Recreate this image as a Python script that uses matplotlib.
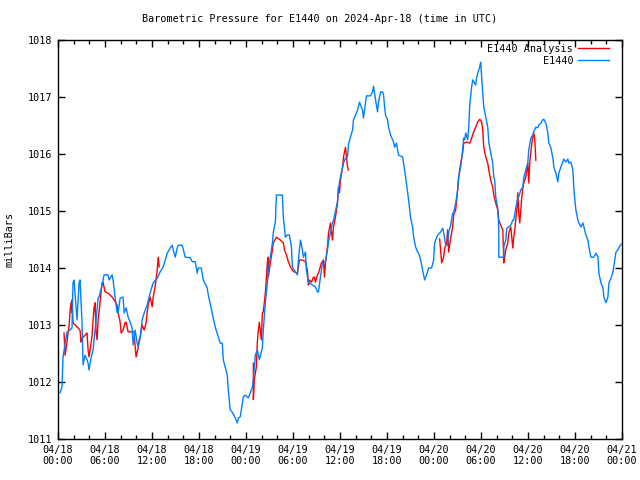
import numpy as np
import matplotlib
matplotlib.use('Agg')
import matplotlib.pyplot as plt
import matplotlib.dates as mdates
from datetime import datetime, timedelta

nan = np.nan

# hours since 2024-04-18 00:00 UTC, pressure in mbar
obs_hours = [0.26, 0.51, 0.64, 1.15, 1.53, 1.79, 1.92, 2.05, 2.30, 2.43, 2.69, 2.81, 3.07, 3.20, 3.45, 3.71, 3.84, 3.96,
             4.22, 4.48, 4.60, 4.86, 5.12, 5.24, 5.63, 5.88, 6.39, 6.52, 6.91, 7.03, 7.29, 7.54, 7.67, 7.93, 8.31, 8.44,
             8.70, 8.95, 9.21, 9.46, 9.59, 9.85, 10.10, 10.23, 10.49, 10.74, 11.00, 11.38, 11.76, 12.15, 12.66, 13.04,
             13.43, 13.94, 14.32, 14.58, 14.71, 14.96, 15.22, 15.35, 15.86, 16.24, 16.88, 17.14, 17.52, 17.77, 17.90,
             18.29, 18.54, 19.05, 19.18, 19.69, 20.08, 20.46, 20.72, 20.97, 21.10, 21.61, 21.74, 21.99, 22.25, 22.63,
             22.89, 23.02, 23.27, 23.53, 23.66, 23.91, 24.30, 24.55, 24.81, 24.94, 25.19, 25.45, 25.70, 26.09, 26.21,
             26.47, 26.73, 26.85, 27.11, 27.37, 27.49, 27.75, 27.88, 28.64, 28.77, 29.03, 29.28, 29.54, 29.80, 29.92,
             30.31, 30.56, 30.69, 30.95, 31.20, 31.33, 31.59, 31.71, 31.97, 32.48, 32.86, 33.12, 33.25, 33.50, 33.76,
             34.14, 34.40, 34.53, 35.04, 35.17, 35.68, 35.81, 36.06, 36.45, 36.70, 36.96, 37.08, 37.34, 37.60, 37.72,
             37.98, 38.24, 38.49, 38.87, 39.00, 39.26, 39.39, 39.90, 40.15, 40.28, 40.54, 40.79, 40.92, 41.18, 41.43,
             41.56, 41.69, 41.82, 42.07, 42.20, 42.46, 42.84, 42.97, 43.22, 43.35, 43.48, 43.99, 44.12, 44.37, 44.63,
             44.76, 45.01, 45.27, 45.40, 45.65, 45.91, 46.04, 46.29, 46.55, 46.68, 46.80, 47.06, 47.31, 47.70, 47.95,
             48.08, 48.47, 48.85, 49.10, 49.23, 49.49, 49.74, 49.87, 50.13, 50.38, 50.51, 50.77, 51.02, 51.15, 51.41,
             51.66, 51.79, 51.92, 52.05, 52.30, 52.43, 52.56, 52.81, 52.94, 53.32, 53.45, 53.71, 53.84, 53.96, 54.22,
             54.35, 54.60, 54.86, 54.99, 55.24, 55.50, 55.63, 55.75, 55.88, 56.14, 56.27, 56.27, 56.91, 56.91, 57.16,
             57.29, 57.54, 57.80, 58.06, 58.18, 58.44, 58.70, 58.82, 59.08, 59.34, 59.46, 59.72, 59.97, 60.10, 60.36,
             60.61, 60.74, 61.00, 61.25, 61.38, 61.64, 61.89, 62.02, 62.28, 62.53, 62.66, 62.92, 63.17, 63.30, 63.55,
             63.81, 63.94, 64.19, 64.45, 64.58, 64.83, 65.09, 65.22, 65.47, 65.73, 65.86, 66.11, 66.37, 66.50, 66.75,
             67.01, 67.14, 67.39, 67.65, 67.77, 68.03, 68.41, 68.67, 68.93, 69.05, 69.31, 69.57, 69.69, 69.95, 70.20,
             70.33, 70.59, 70.84, 70.97, 71.23, 71.48, 71.74, 71.90]
obs_mb = [1011.81, 1011.91, 1012.44, 1012.88, 1012.91, 1012.95, 1013.74, 1013.79, 1013.32, 1013.09, 1013.74, 1013.79,
          1013.04, 1012.30, 1012.47, 1012.39, 1012.33, 1012.21, 1012.42, 1012.56, 1012.74, 1013.09, 1013.47, 1013.49,
          1013.70, 1013.88, 1013.88, 1013.79, 1013.88, 1013.79, 1013.49, 1013.22, 1013.21, 1013.47, 1013.49, 1013.21,
          1013.30, 1013.14, 1013.05, 1012.95, 1012.65, 1012.91, 1012.69, 1012.62, 1012.77, 1013.09, 1013.21, 1013.35,
          1013.56, 1013.74, 1013.82, 1013.93, 1014.02, 1014.26, 1014.35, 1014.40, 1014.32, 1014.19, 1014.35, 1014.40,
          1014.40, 1014.19, 1014.18, 1014.11, 1014.11, 1013.91, 1014.00, 1014.00, 1013.79, 1013.65, 1013.53, 1013.21,
          1012.96, 1012.79, 1012.68, 1012.68, 1012.39, 1012.12, 1011.86, 1011.51, 1011.47, 1011.37, 1011.28, 1011.37,
          1011.39, 1011.63, 1011.74, 1011.77, 1011.72, 1011.81, 1011.91, 1012.04, 1012.47, 1012.56, 1012.39, 1012.60,
          1012.91, 1013.39, 1013.74, 1013.96, 1014.19, 1014.44, 1014.63, 1014.81, 1015.28, 1015.28, 1014.89, 1014.54,
          1014.58, 1014.58, 1014.37, 1014.02, 1013.93, 1013.88, 1014.14, 1014.49, 1014.32, 1014.19, 1014.28, 1013.96,
          1013.75, 1013.70, 1013.67, 1013.58, 1013.58, 1013.84, 1014.09, 1014.11, 1014.32, 1014.46, 1014.79, 1014.84,
          1015.16, 1015.40, 1015.60, 1015.84, 1015.93, 1015.95, 1016.16, 1016.30, 1016.42, 1016.60, 1016.68, 1016.77,
          1016.91, 1016.77, 1016.63, 1016.91, 1017.02, 1017.02, 1017.09, 1017.19, 1016.95, 1016.74, 1016.91, 1017.09,
          1017.09, 1017.04, 1016.83, 1016.68, 1016.60, 1016.47, 1016.33, 1016.21, 1016.12, 1016.19, 1016.07, 1015.98,
          1015.95, 1015.84, 1015.60, 1015.32, 1015.19, 1014.88, 1014.72, 1014.54, 1014.37, 1014.28, 1014.26, 1014.14,
          1013.96, 1013.88, 1013.79, 1013.88, 1014.00, 1014.00, 1014.14, 1014.44, 1014.58, 1014.63, 1014.70, 1014.63,
          1014.40, 1014.40, 1014.63, 1014.75, 1014.96, 1014.97, 1015.14, 1015.37, 1015.60, 1015.77, 1016.07, 1016.28,
          1016.25, 1016.37, 1016.25, 1016.47, 1016.86, 1017.18, 1017.30, 1017.21, 1017.35, 1017.47, 1017.53, 1017.61,
          1017.07, 1016.83, 1016.65, 1016.47, 1016.21, 1016.02, 1015.84, 1015.60, 1015.54, 1015.25, 1015.05, 1014.67,
          1014.19, 1014.19, 1014.37, 1014.49, 1014.70, 1014.72, 1014.75, 1014.84, 1014.84, 1015.05, 1015.23, 1015.25,
          1015.37, 1015.42, 1015.58, 1015.72, 1015.84, 1016.07, 1016.28, 1016.33, 1016.39, 1016.47, 1016.46, 1016.51,
          1016.54, 1016.60, 1016.61, 1016.54, 1016.37, 1016.19, 1016.11, 1015.93, 1015.77, 1015.67, 1015.51, 1015.67,
          1015.77, 1015.86, 1015.91, 1015.86, 1015.91, 1015.84, 1015.86, 1015.72, 1015.37, 1015.02, 1014.84, 1014.79,
          1014.72, 1014.79, 1014.72, 1014.58, 1014.49, 1014.37, 1014.19, 1014.19, 1014.26, 1014.19, 1013.91, 1013.74,
          1013.65, 1013.49, 1013.39, 1013.49, 1013.74, 1013.82, 1013.93, 1014.05, 1014.28, 1014.32, 1014.39, 1014.42]

ana_hours = [0.77, 0.90, 1.15, 1.28, 1.41, 1.53, 1.66, 1.79, 1.79, 1.92, 2.17, 2.56, 2.81, 2.94, 3.07, 3.45, 3.71,
             3.84, 3.96, 4.22, 4.35, 4.48, 4.60, 4.73, 4.86, 4.99, 5.12, 5.24, 5.37, 5.50, 5.63, 5.75, 6.01, 6.39,
             6.91, 7.16, 7.54, 7.67, 7.93, 8.06, 8.31, 8.57, 8.70, 8.95, 9.21, 9.72, 9.85, 9.97, 10.23, 10.36, 10.49,
             10.74, 10.87, 11.00, 11.25, 11.38, 11.51, 11.76, 12.02, 12.15, 12.40, 12.66, 12.79, 12.92, 18.0,
             24.94, 24.94, 25.06, 25.32, 25.45, 25.58, 25.70, 25.96, 26.09, 26.21, 26.47, 26.73, 26.85, 26.85, 27.11,
             27.37, 27.49, 27.88, 28.39, 28.77, 28.90, 29.16, 29.41, 29.67, 29.92, 30.18, 30.56, 30.82, 31.20, 31.59,
             31.84, 31.97, 32.10, 32.35, 32.61, 32.74, 32.86, 33.12, 33.25, 33.63, 33.89, 34.02, 34.14, 34.40, 34.53,
             34.78, 35.04, 35.17, 35.42, 35.68, 35.81, 35.93, 36.06, 36.32, 36.45, 36.70, 36.96, 37.08, 42.0,
             48.72, 48.98, 49.23, 49.36, 49.62, 49.74, 49.87, 50.13, 50.38, 50.51, 50.77, 51.02, 51.15, 51.41, 51.66,
             51.79, 52.17, 52.56, 52.81, 53.07, 53.32, 53.58, 53.84, 54.09, 54.22, 54.35, 54.60, 54.86, 54.99, 55.24,
             55.50, 55.63, 55.88, 56.14, 56.27, 56.52, 56.78, 56.91, 57.03, 57.16, 57.42, 57.54, 57.80, 58.06, 58.18,
             58.31, 58.44, 58.57, 58.70, 58.82, 58.95, 59.21, 59.34, 59.46, 59.72, 59.97, 60.10, 60.23, 60.49, 60.61,
             60.74, 60.87, 61.00]
ana_mb = [1012.86, 1012.47, 1012.70, 1012.86, 1012.97, 1013.23, 1013.39, 1013.21, 1013.44, 1013.04, 1013.00, 1012.95,
          1012.91, 1012.70, 1012.77, 1012.82, 1012.86, 1012.56, 1012.44, 1012.68, 1012.82, 1013.09, 1013.30, 1013.39,
          1012.88, 1012.74, 1013.09, 1013.23, 1013.40, 1013.56, 1013.74, 1013.75, 1013.58, 1013.56, 1013.49, 1013.44,
          1013.35, 1013.23, 1013.05, 1012.86, 1012.91, 1013.04, 1013.05, 1012.88, 1012.88, 1012.88, 1012.62, 1012.44,
          1012.60, 1012.74, 1012.79, 1013.00, 1012.95, 1012.91, 1013.04, 1013.21, 1013.35, 1013.49, 1013.32, 1013.49,
          1013.67, 1013.96, 1014.19, 1014.02, nan,
          1012.33, 1011.69, 1012.04, 1012.26, 1012.70, 1012.91, 1013.05, 1012.74, 1013.21, 1013.23, 1013.56, 1014.09,
          1014.19, 1013.84, 1014.09, 1014.32, 1014.44, 1014.54, 1014.49, 1014.44, 1014.32, 1014.23, 1014.11, 1014.02,
          1013.96, 1013.93, 1013.91, 1014.14, 1014.14, 1014.11, 1013.96, 1013.70, 1013.79, 1013.75, 1013.84, 1013.84,
          1013.75, 1013.88, 1013.91, 1014.09, 1014.14, 1013.84, 1014.09, 1014.37, 1014.61, 1014.79, 1014.49, 1014.72,
          1014.89, 1015.14, 1015.42, 1015.32, 1015.54, 1015.77, 1015.95, 1016.12, 1015.77, 1015.72, nan,
          1014.51, 1014.09, 1014.19, 1014.35, 1014.44, 1014.67, 1014.28, 1014.53, 1014.72, 1014.93, 1015.02, 1015.37,
          1015.60, 1015.84, 1016.02, 1016.19, 1016.21, 1016.19, 1016.28, 1016.39, 1016.47, 1016.56, 1016.61, 1016.56,
          1016.42, 1016.12, 1015.95, 1015.84, 1015.72, 1015.54, 1015.42, 1015.28, 1015.14, 1015.02, 1014.84, 1014.75,
          1014.67, 1014.09, 1014.19, 1014.32, 1014.44, 1014.61, 1014.72, 1014.35, 1014.54, 1014.67, 1014.84, 1015.02,
          1015.32, 1014.96, 1014.79, 1015.25, 1015.40, 1015.49, 1015.60, 1015.84, 1015.49, 1015.86, 1016.19, 1016.30,
          1016.37, 1016.25, 1015.89]

base = datetime(2024, 4, 18)
obs_t = [base + timedelta(hours=h) for h in obs_hours]
ana_t = [base + timedelta(hours=h) for h in ana_hours]

plt.rcParams['font.family'] = 'DejaVu Sans Mono'
plt.rcParams['font.size'] = 7.3

fig = plt.figure(figsize=(6.4, 4.8), dpi=100)
ax = fig.add_axes([58/640, 41/480, 564/640, 399/480])

ax.plot(ana_t, ana_mb, color='#ff0000', lw=1.0, label='E1440 Analysis')
ax.plot(obs_t, obs_mb, color='#0080ff', lw=1.0, label='E1440')

ax.set_xlim(base, base + timedelta(days=3))
ax.set_ylim(1011, 1018)
ax.set_yticks(range(1011, 1019))
ax.xaxis.set_major_locator(mdates.HourLocator(byhour=[0, 6, 12, 18]))
ax.xaxis.set_minor_locator(mdates.HourLocator(interval=2))
ax.xaxis.set_major_formatter(mdates.DateFormatter('%m/%d\n%H:%M'))
ax.tick_params(which='both', direction='in', top=True, right=True, colors='black')
ax.tick_params(which='major', length=5, width=1, pad=4)
ax.tick_params(which='minor', length=3, width=1)
for s in ax.spines.values():
    s.set_linewidth(1)

ax.set_ylabel('milliBars', labelpad=10)
fig.text(0.5, 0.96, 'Barometric Pressure for E1440 on 2024-Apr-18 (time in UTC)', ha='center', va='center')

ax.legend(loc='upper right', bbox_to_anchor=(0.989, 1.008), frameon=False, markerfirst=False,
          handlelength=3.0, borderaxespad=0.3, labelspacing=0.2, handletextpad=0.5)

fig.savefig('out.png', dpi=100)
